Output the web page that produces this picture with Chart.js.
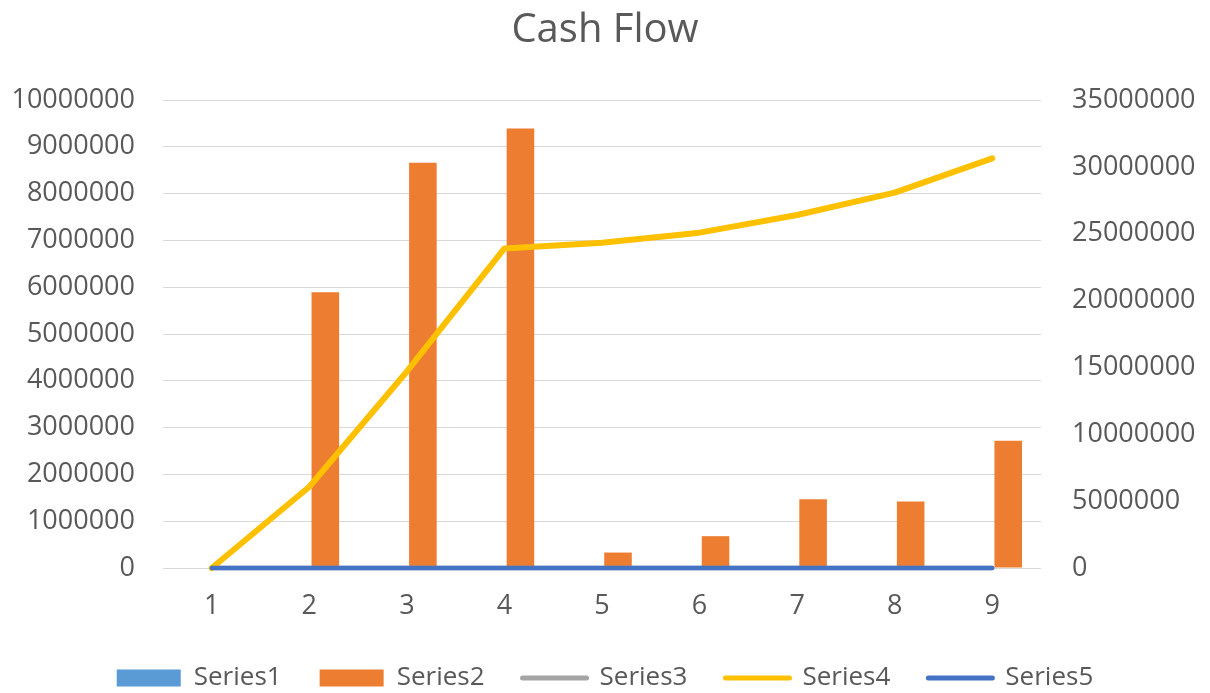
<!DOCTYPE html>
<html>
<head>
<meta charset="utf-8">
<script src="https://cdn.jsdelivr.net/npm/chart.js@4/dist/chart.umd.min.js"></script>
<style>
  html, body { margin: 0; padding: 0; background: #ffffff; }
  #wrap { width: 1210px; height: 693px; }
</style>
</head>
<body>
<div id="wrap"><canvas id="c" width="1210" height="693"></canvas></div>
<script>
const categories = ['1', '2', '3', '4', '5', '6', '7', '8', '9'];
const series1 = [0, 0, 0, 0, 0, 0, 0, 0, 0];
const series2 = [0, 5890000, 8660000, 9390000, 330000, 680000, 1470000, 1420000, 2720000];
const series3 = [0, 0, 0, 0, 0, 0, 0, 0, 0];
const series4 = [0, 6080000, 14700000, 23900000, 24330000, 25080000, 26400000, 28070000, 30640000];
const series5 = [0, 0, 0, 0, 0, 0, 0, 0, 0];
const seriesNames = ['Series1', 'Series2', 'Series3', 'Series4', 'Series5'];
const leftTicks = { min: 0, max: 10000000, step: 1000000 };
const rightTicks = { min: 0, max: 35000000, step: 5000000 };

const FONT = "'Open Sans', 'Liberation Sans', sans-serif";
const TXT = '#595959';

const ctx = document.getElementById('c').getContext('2d');
new Chart(ctx, {
  data: {
    labels: categories,
    datasets: [
      { type: 'bar', label: seriesNames[0], data: series1, backgroundColor: '#5B9BD5', yAxisID: 'y', order: 4,
        categoryPercentage: 0.656, barPercentage: 0.862 },
      { type: 'bar', label: seriesNames[1], data: series2, backgroundColor: '#ED7D31', yAxisID: 'y', order: 5,
        categoryPercentage: 0.656, barPercentage: 0.862 },
      { type: 'line', label: seriesNames[2], data: series3, borderColor: '#A5A5A5', backgroundColor: '#A5A5A5',
        borderWidth: 4.5, pointRadius: 0, tension: 0, yAxisID: 'y', order: 3, borderCapStyle: 'round', clip: false },
      { type: 'line', label: seriesNames[3], data: series4, borderColor: '#FFC000', backgroundColor: '#FFC000',
        borderWidth: 6, pointRadius: 0, tension: 0, yAxisID: 'y1', order: 2, borderCapStyle: 'round',
        borderJoinStyle: 'round', clip: false },
      { type: 'line', label: seriesNames[4], data: series5, borderColor: '#4472C4', backgroundColor: '#4472C4',
        borderWidth: 4.5, pointRadius: 0, tension: 0, yAxisID: 'y', order: 1, borderCapStyle: 'round', clip: false }
    ]
  },
  options: {
    responsive: false,
    animation: false,
    devicePixelRatio: 1,
    layout: { padding: 0 },
    plugins: {
      tooltip: { enabled: false },
      title: {
        display: true,
        text: 'Cash Flow',
        color: TXT,
        font: { family: FONT, size: 40, weight: 'normal', lineHeight: 1.2 },
        padding: { top: 7, bottom: 45 }
      },
      legend: {
        position: 'bottom',
        maxHeight: 66,
        labels: {
          font: { family: FONT, size: 26 },
          color: TXT,
          usePointStyle: true,
          pointStyleWidth: 64,
          boxHeight: 17,
          padding: 38,
          generateLabels(chart) {
            return chart.data.datasets.map((ds, i) => {
              const isBar = ds.type === 'bar';
              return {
                text: ds.label,
                fillStyle: isBar ? ds.backgroundColor : ds.borderColor,
                strokeStyle: isBar ? ds.backgroundColor : ds.borderColor,
                lineWidth: isBar ? 0 : 5,
                lineCap: 'round',
                pointStyle: isBar ? 'rect' : 'line',
                hidden: false,
                datasetIndex: i,
                fontColor: TXT
              };
            });
          }
        }
      }
    },
    scales: {
      x: {
        type: 'category',
        offset: true,
        grid: { display: false, drawTicks: false },
        border: { display: false },
        ticks: { color: TXT, font: { family: FONT, size: 27 }, padding: 22, maxRotation: 0 },
        afterFit(scale) { scale.height = 59; }
      },
      y: {
        position: 'left',
        min: leftTicks.min,
        max: leftTicks.max,
        grid: { color: '#D9D9D9', lineWidth: 1, drawTicks: false },
        border: { display: false },
        ticks: {
          stepSize: leftTicks.step,
          color: TXT,
          font: { family: FONT, size: 27 },
          padding: 28,
          callback: v => String(v)
        },
        afterFit(scale) { scale.width = 163; }
      },
      y1: {
        position: 'right',
        min: rightTicks.min,
        max: rightTicks.max,
        grid: { display: false, drawTicks: false },
        border: { display: false },
        ticks: {
          stepSize: rightTicks.step,
          color: TXT,
          font: { family: FONT, size: 27 },
          padding: 31,
          callback: v => String(v)
        },
        afterFit(scale) { scale.width = 169; }
      }
    }
  }
});
</script>
</body>
</html>
